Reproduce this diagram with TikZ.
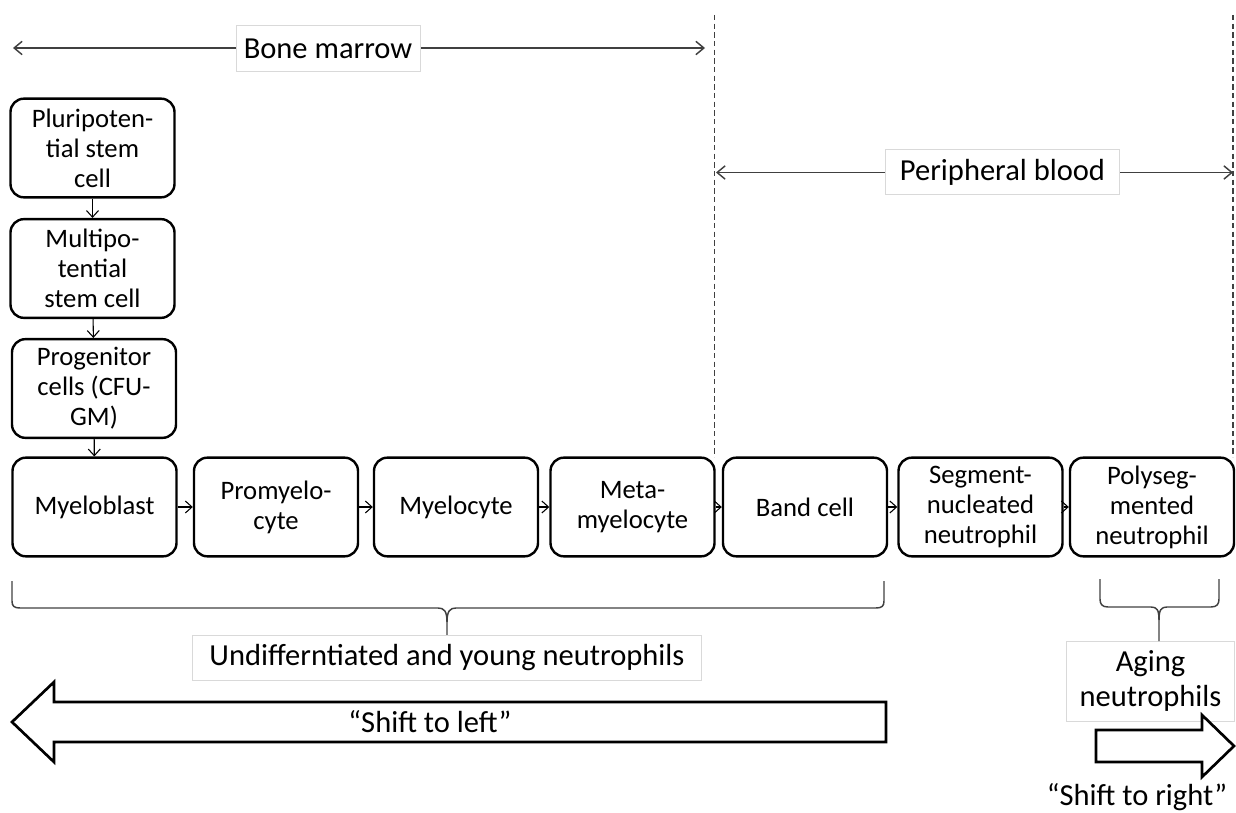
\documentclass[tikz,border=0pt]{standalone}
\usepackage{fontspec}
\setmainfont{Carlito}
\usetikzlibrary{arrows.meta}

\tikzset{
  cellbox/.style={draw, line width=1.8pt, rounded corners=10pt, minimum width=123pt, minimum height=74pt, align=center, inner sep=2pt, font=\fontsize{20}{22.5}\selectfont},
  labelbox/.style={draw=black!15, fill=white, line width=0.6pt, minimum height=34pt, inner sep=2pt, align=center, font=\fontsize{22.9}{26.3}\selectfont},
  plaintext/.style={inner sep=0pt, align=center, font=\fontsize{22.9}{26.3}\selectfont},
  cellarrow/.style={-{Straight Barb[length=5pt,width=9pt]}, line width=0.8pt},
  spanarrow/.style={{Straight Barb[length=6pt,width=10pt]}-{Straight Barb[length=6pt,width=10pt]}, line width=1.1pt, black!75},
  bracket/.style={line width=1.1pt, black!75},
  border/.style={dash pattern=on 4pt off 2.5pt, line width=0.9pt, black!75},
  shiftarrow/.style={draw, line width=2pt, fill=white, line join=miter},
}

\begin{document}
\begin{tikzpicture}[x=0.75pt,y=0.75pt,yscale=-1,xscale=1]
    \useasboundingbox (0,0) rectangle (1236,813);

    %Dashed borders of the peripheral blood
    \coordinate (bloodTL) at (714.5,15);
    \coordinate (bloodBL) at (714.5,457);
    \coordinate (bloodTR) at (1233,15);
    \coordinate (bloodBR) at (1233,457);
    \draw [border] (bloodTL) -- (bloodBL);
    \draw [border] (bloodTR) -- (bloodBR);

    %Span arrows
    \coordinate (marrowL) at (13,48);
    \coordinate (marrowR) at (705,48);
    \draw [spanarrow] (marrowL) -- (marrowR);
    \node [labelbox, minimum width=138pt] (marrow) at (328,48.5) {Bone marrow};
    \coordinate (bloodL) at (716,172.5);
    \coordinate (bloodR) at (1233,172.5);
    \draw [spanarrow] (bloodL) -- (bloodR);
    \node [labelbox, minimum width=175pt] (blood) at (1002.5,172) {Peripheral blood};

    %Stem cells
    \node [cellbox] (pluri) at (92.5,148) {Pluripoten-\\tial stem\\cell};
    \node [cellbox] (multi) at (92.5,268.5) {Multipo-\\tential\\stem cell};
    \node [cellbox] (progen) at (94,388.5) {Progenitor\\cells (CFU-\\GM)};

    %Neutrophil row
    \node [cellbox] (myeloblast) at (94.5,507) {Myeloblast};
    \node [cellbox] (promyelo) at (276,507) {Promyelo-\\cyte};
    \node [cellbox] (myelocyte) at (456,507) {Myelocyte};
    \node [cellbox] (meta) at (632.5,507) {Meta-\\myelocyte};
    \node [cellbox] (band) at (805,507) {Band cell};
    \node [cellbox] (segment) at (980.5,507) {Segment-\\nucleated\\neutrophil};
    \node [cellbox] (polyseg) at (1152,507) {Polyseg-\\mented\\neutrophil};

    \draw [cellarrow] (pluri) -- (multi);
    \draw [cellarrow] (multi) -- (progen);
    \draw [cellarrow] (progen) -- (myeloblast);
    \draw [cellarrow] (myeloblast) -- (promyelo);
    \draw [cellarrow] (promyelo) -- (myelocyte);
    \draw [cellarrow] (myelocyte) -- (meta);
    \draw [cellarrow] (meta) -- (band);
    \draw [cellarrow] (band) -- (segment);
    \draw [cellarrow] (segment) -- (polyseg);

    % Text Node
    \node [labelbox, minimum width=382pt] (young) at (447,658) {Undifferntiated and young neutrophils};
    % Text Node
    \node [labelbox, minimum width=126pt, minimum height=60pt] (aging) at (1150.5,681) {Aging\\neutrophils};

    %Braces
    \draw [bracket] (12,581) -- (12,601) .. controls (12,606) and (14,608) .. (20,608) -- (438,608) .. controls (444,608) and (447,611) .. (447,622) -- (young.north);
    \draw [bracket] (884,581) -- (884,601) .. controls (884,606) and (882,608) .. (876,608) -- (456,608) .. controls (450,608) and (447,611) .. (447,622);
    \coordinate (agingtip) at (1159,641);
    \draw [bracket] (1100,579) -- (1100,599) .. controls (1100,604) and (1102,607) .. (1108,607) -- (1151,607) .. controls (1157,607) and (1159,610) .. (1159,620) -- (agingtip);
    \draw [bracket] (1219,579) -- (1219,599) .. controls (1219,604) and (1217,607) .. (1211,607) -- (1167,607) .. controls (1161,607) and (1159,610) .. (1159,620);

    %Shape: Left Arrow
    \draw [shiftarrow] (12,722) -- (54,682) -- (54,702) -- (886,702) -- (886,742) -- (54,742) -- (54,762) -- cycle;
    \node [plaintext] (shiftleft) at (430,722) {“Shift to left”};
    %Shape: Right Arrow
    \draw [shiftarrow] (1096,730) -- (1202,730) -- (1202,715) -- (1234,746) -- (1202,777) -- (1202,762) -- (1096,762) -- cycle;
    \node [plaintext] (shiftright) at (1137,797) {“Shift to right”};

\end{tikzpicture}
\end{document}
